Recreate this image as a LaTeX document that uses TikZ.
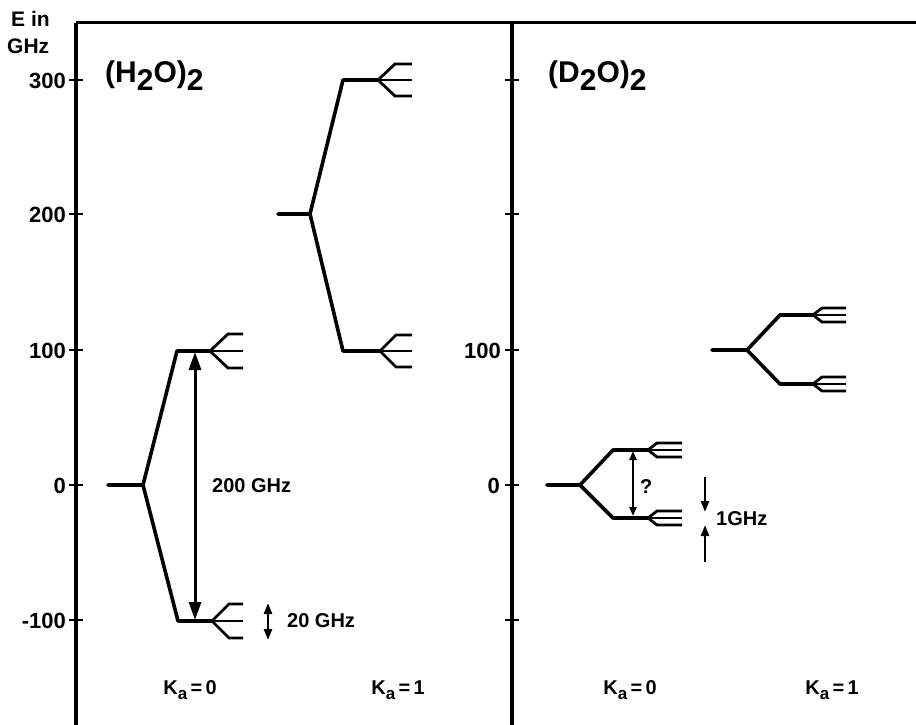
\documentclass[tikz,border=0pt]{standalone}
\usepackage{fontspec}
\setmainfont{Liberation Sans}
\usetikzlibrary{arrows.meta}
\newcommand{\lowsub}[1]{\raisebox{-0.3em}{#1}}
\newcommand{\kasub}[1]{K\raisebox{-0.28em}{\fontsize{17}{17}\selectfont a}\,=\,#1}
\begin{document}
\begin{tikzpicture}[x=1pt,y=-1pt,
  axisline/.style={line width=4.5pt},
  topline/.style={line width=3pt},
  tick/.style={line width=2.5pt},
  lvl/.style={line width=3.6pt, line join=round, line cap=round},
  fanline/.style={line width=2.8pt, line join=miter},
  bigarrow/.style={line width=3pt, {Triangle[length=18pt,width=12pt]}-{Triangle[length=18pt,width=12pt]}},
  midarrow/.style={line width=2.6pt, {Triangle[length=11pt,width=8pt]}-{Triangle[length=11pt,width=8pt]}},
  smallarrow/.style={line width=2.6pt, -{Triangle[length=11pt,width=8pt]}},
  ticklab/.style={font=\bfseries\fontsize{22}{22}\selectfont, inner sep=0pt, anchor=east},
  lab/.style={font=\bfseries\fontsize{20}{20}\selectfont, inner sep=0pt},
  kalab/.style={font=\bfseries\fontsize{20}{20}\selectfont, inner sep=0pt},
  ttl/.style={font=\bfseries\fontsize{30}{30}\selectfont, inner sep=0pt, anchor=base west},
  pics/fan/.style n args={3}{code={
    \draw[fanline] (#3,-#2) -- (#1,-#2) -- (0,0) -- (#1,#2) -- (#3,#2);
    \draw[fanline] (0,0) -- (#3,0);
  }}
]
\useasboundingbox (0,0) rectangle (916,725);

% axes and frame
\coordinate (ax1t) at (76,23);
\coordinate (ax1b) at (76,725);
\coordinate (ax2t) at (512,23);
\coordinate (ax2b) at (512,725);
\coordinate (topr) at (916,23);
\draw[topline] (ax1t) -- (topr);
\draw[axisline] (ax1t) -- (ax1b);
\draw[axisline] (ax2t) -- (ax2b);

% ticks
\foreach \yy in {80,214,350,485,620}{
  \draw[tick] (69,\yy) -- (83,\yy);
  \draw[tick] (505,\yy) -- (519,\yy);
}
\node[ticklab] (t300) at (66,81) {300};
\node[ticklab] (t200) at (66,215) {200};
\node[ticklab] (t100) at (66,351) {100};
\node[ticklab] (t0) at (66,486) {0};
\node[ticklab] (tm100) at (66,621) {-100};
\node[ticklab] (u100) at (501,351) {100};
\node[ticklab] (u0) at (500,486) {0};

\node[lab, anchor=west, font=\bfseries\fontsize{21}{21}\selectfont] (ein) at (11,19) {E in};
\node[lab, anchor=west, font=\bfseries\fontsize{21}{21}\selectfont] (ghz) at (7,46) {GHz};

% titles
\node[ttl] (th) at (105,82) {(H\lowsub{2}O)\lowsub{2}};
\node[ttl] (td) at (548,82) {(D\lowsub{2}O)\lowsub{2}};

% H2O  Ka=0
\coordinate (h0g) at (108,485);
\coordinate (h0s) at (143,485);
\coordinate (h0u) at (177,351);
\coordinate (h0uf) at (210,351);
\coordinate (h0d) at (178,621);
\coordinate (h0df) at (212,621);
\draw[lvl] (h0g) -- (h0s) -- (h0u) -- (h0uf);
\draw[lvl] (h0s) -- (h0d) -- (h0df);
\pic at (h0uf) {fan={18}{17}{33}};
\pic at (h0df) {fan={17}{17}{31}};
\coordinate (aru) at (195,352);
\coordinate (ard) at (195,620);
\draw[bigarrow] (aru) -- (ard);
\node[lab, anchor=west] (l200) at (212,486) {200 GHz};
\coordinate (s20a) at (268,603);
\coordinate (s20b) at (268,640);
\draw[midarrow] (s20a) -- (s20b);
\node[lab, anchor=west] (l20) at (287,621) {20 GHz};

% H2O  Ka=1
\coordinate (h1g) at (278,214);
\coordinate (h1s) at (310,214);
\coordinate (h1u) at (343,80);
\coordinate (h1uf) at (378,80);
\coordinate (h1d) at (343,351);
\coordinate (h1df) at (380,351);
\draw[lvl] (h1g) -- (h1s) -- (h1u) -- (h1uf);
\draw[lvl] (h1s) -- (h1d) -- (h1df);
\pic at (h1uf) {fan={17}{16}{34}};
\pic at (h1df) {fan={16}{16}{32}};

% D2O  Ka=0
\coordinate (d0g) at (547,485);
\coordinate (d0s) at (580,485);
\coordinate (d0u) at (613,450);
\coordinate (d0uf) at (648,450);
\coordinate (d0d) at (613,518);
\coordinate (d0df) at (648,518);
\draw[lvl] (d0g) -- (d0s) -- (d0u) -- (d0uf);
\draw[lvl] (d0s) -- (d0d) -- (d0df);
\pic at (d0uf) {fan={9}{7}{34}};
\pic at (d0df) {fan={9}{7}{34}};
\coordinate (qa) at (633,451);
\coordinate (qb) at (633,516);
\draw[line width=2.4pt, {Triangle[length=9pt,width=7pt]}-{Triangle[length=9pt,width=7pt]}] (qa) -- (qb);
\node[lab, anchor=west] (lq) at (640,487) {?};
\coordinate (g1a) at (705,477);
\coordinate (g1b) at (705,512);
\coordinate (g1c) at (705,562);
\coordinate (g1d) at (705,525);
\draw[smallarrow] (g1a) -- (g1b);
\draw[smallarrow] (g1c) -- (g1d);
\node[lab, anchor=west] (l1g) at (716,519) {1GHz};

% D2O  Ka=1
\coordinate (d1g) at (712,350);
\coordinate (d1s) at (747,350);
\coordinate (d1u) at (780,315);
\coordinate (d1uf) at (813,315);
\coordinate (d1d) at (780,384);
\coordinate (d1df) at (813,384);
\draw[lvl] (d1g) -- (d1s) -- (d1u) -- (d1uf);
\draw[lvl] (d1s) -- (d1d) -- (d1df);
\pic at (d1uf) {fan={9}{7}{33}};
\pic at (d1df) {fan={9}{7}{33}};

% K_a labels
\node[kalab] (k1) at (190,690) {\kasub{0}};
\node[kalab] (k2) at (398,690) {\kasub{1}};
\node[kalab] (k3) at (630,690) {\kasub{0}};
\node[kalab] (k4) at (832,690) {\kasub{1}};
\end{tikzpicture}
\end{document}
